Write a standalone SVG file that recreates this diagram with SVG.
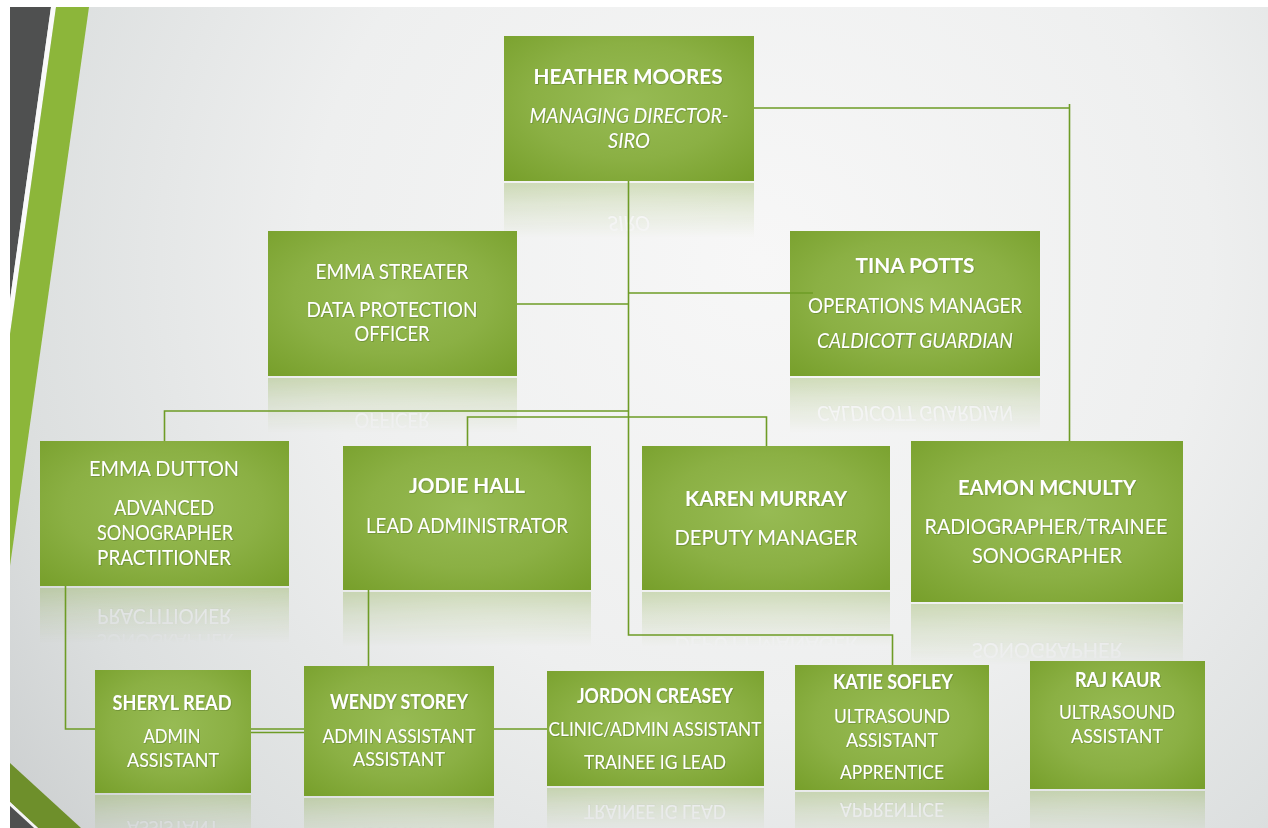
<svg xmlns="http://www.w3.org/2000/svg" xmlns:xlink="http://www.w3.org/1999/xlink" width="1268" height="828" viewBox="0 0 1268 828">
  <style>
    .box { fill: url(#boxFill); }
    .t { font-family: Lato, "Open Sans", "Liberation Sans", sans-serif; font-size: 21px; fill: #ffffff; text-anchor: middle; filter: url(#txtShadow); }
    .s { font-size: 20px; }
    .b { font-weight: 700; }
    .i { font-style: italic; }
    .wire { fill: none; stroke: #6e9c26; stroke-width: 1.6; }
  </style>
  <defs>
    <radialGradient id="bgFill" gradientUnits="userSpaceOnUse" cx="760" cy="260" r="1000">
      <stop offset="0" stop-color="#f7f7f7"/>
      <stop offset="0.45" stop-color="#eeefef"/>
      <stop offset="0.75" stop-color="#dcdfdf"/>
      <stop offset="1" stop-color="#c6c9ca"/>
    </radialGradient>
    <radialGradient id="boxFill" cx="0.5" cy="0.45" r="0.72">
      <stop offset="0" stop-color="#97bb54"/>
      <stop offset="0.55" stop-color="#8bb044"/>
      <stop offset="1" stop-color="#78a02c"/>
    </radialGradient>
    <linearGradient id="fadeGrad" x1="0" y1="0" x2="0" y2="1">
      <stop offset="0" stop-color="#ffffff" stop-opacity="0.3"/>
      <stop offset="0.15" stop-color="#ffffff" stop-opacity="0.16"/>
      <stop offset="0.38" stop-color="#ffffff" stop-opacity="0"/>
    </linearGradient>
    <mask id="fade" maskContentUnits="objectBoundingBox">
      <rect x="0" y="0" width="1" height="1" fill="url(#fadeGrad)"/>
    </mask>
    <filter id="txtShadow" x="-10%" y="-30%" width="120%" height="160%">
      <feDropShadow dx="0.8" dy="0.8" stdDeviation="0.7" flood-color="#3e5a12" flood-opacity="0.4"/>
    </filter>
  </defs>

  <!-- page and backdrop -->
  <rect x="0" y="0" width="1268" height="828" fill="#ffffff"/>
  <rect x="10" y="7" width="1258" height="821" fill="url(#bgFill)"/>

  <!-- left-hand slanted bands -->
  <g id="decor">
    <polygon points="10,7 51,7 10,300" fill="#4f5050"/>
    <polygon points="51,7 56,7 10,334 10,300" fill="#fafafa"/>
    <polygon points="56,7 89,7 10,566 10,334" fill="#8cb63a"/>
    <polygon points="10,763 81,828 38,828 10,802" fill="#6e8f2b"/>
    <polygon points="10,802 38,828 34,828 10,806" fill="#f4f4f4"/>
    <polygon points="10,806 34,828 10,828" fill="#4f5050"/>
  </g>

  <!-- mirrored reflections under each box -->
  <g id="reflections">
    <g mask="url(#fade)"><use xlink:href="#n-heather" transform="matrix(1 0 0 -1 0 364)"/></g>
    <g mask="url(#fade)"><use xlink:href="#n-streater" transform="matrix(1 0 0 -1 0 754)"/></g>
    <g mask="url(#fade)"><use xlink:href="#n-tina" transform="matrix(1 0 0 -1 0 754)"/></g>
    <g mask="url(#fade)"><use xlink:href="#n-dutton" transform="matrix(1 0 0 -1 0 1174)"/></g>
    <g mask="url(#fade)"><use xlink:href="#n-jodie" transform="matrix(1 0 0 -1 0 1182)"/></g>
    <g mask="url(#fade)"><use xlink:href="#n-karen" transform="matrix(1 0 0 -1 0 1182)"/></g>
    <g mask="url(#fade)"><use xlink:href="#n-eamon" transform="matrix(1 0 0 -1 0 1206)"/></g>
    <g mask="url(#fade)"><use xlink:href="#n-sheryl" transform="matrix(1 0 0 -1 0 1588)"/></g>
    <g mask="url(#fade)"><use xlink:href="#n-wendy" transform="matrix(1 0 0 -1 0 1594)"/></g>
    <g mask="url(#fade)"><use xlink:href="#n-jordon" transform="matrix(1 0 0 -1 0 1574)"/></g>
    <g mask="url(#fade)"><use xlink:href="#n-katie" transform="matrix(1 0 0 -1 0 1582)"/></g>
    <g mask="url(#fade)"><use xlink:href="#n-raj" transform="matrix(1 0 0 -1 0 1580)"/></g>
  </g>

  <!-- nodes -->
  <g id="n-heather">
    <rect class="box" x="504" y="36" width="250" height="145"/>
    <text class="t b" x="628" y="84" textLength="189" lengthAdjust="spacingAndGlyphs">HEATHER MOORES</text>
    <text class="t i" x="629" y="123" textLength="199" lengthAdjust="spacingAndGlyphs">MANAGING DIRECTOR-</text>
    <text class="t i" x="629" y="148" textLength="42" lengthAdjust="spacingAndGlyphs">SIRO</text>
  </g>
  <g id="n-streater">
    <rect class="box" x="268" y="231" width="249" height="145"/>
    <text class="t" x="392" y="279" textLength="153" lengthAdjust="spacingAndGlyphs">EMMA STREATER</text>
    <text class="t" x="392" y="317" textLength="171" lengthAdjust="spacingAndGlyphs">DATA PROTECTION</text>
    <text class="t" x="392" y="341" textLength="75" lengthAdjust="spacingAndGlyphs">OFFICER</text>
  </g>
  <g id="n-tina">
    <rect class="box" x="790" y="231" width="250" height="145"/>
    <text class="t b" x="915" y="273" textLength="119" lengthAdjust="spacingAndGlyphs">TINA POTTS</text>
    <text class="t" x="915" y="313" textLength="214" lengthAdjust="spacingAndGlyphs">OPERATIONS MANAGER</text>
    <text class="t i" x="915" y="348" textLength="196" lengthAdjust="spacingAndGlyphs">CALDICOTT GUARDIAN</text>
  </g>
  <g id="n-dutton">
    <rect class="box" x="40" y="441" width="249" height="145"/>
    <text class="t" x="164" y="476" textLength="150" lengthAdjust="spacingAndGlyphs">EMMA DUTTON</text>
    <text class="t" x="164" y="515" textLength="100" lengthAdjust="spacingAndGlyphs">ADVANCED</text>
    <text class="t" x="165" y="540" textLength="136" lengthAdjust="spacingAndGlyphs">SONOGRAPHER</text>
    <text class="t" x="164" y="565" textLength="134" lengthAdjust="spacingAndGlyphs">PRACTITIONER</text>
  </g>
  <g id="n-jodie">
    <rect class="box" x="343" y="446" width="248" height="144"/>
    <text class="t b" x="467" y="493" textLength="116" lengthAdjust="spacingAndGlyphs">JODIE HALL</text>
    <text class="t" x="467" y="533" textLength="202" lengthAdjust="spacingAndGlyphs">LEAD ADMINISTRATOR</text>
  </g>
  <g id="n-karen">
    <rect class="box" x="642" y="446" width="248" height="144"/>
    <text class="t b" x="766" y="506" textLength="162" lengthAdjust="spacingAndGlyphs">KAREN MURRAY</text>
    <text class="t" x="766" y="545" textLength="183" lengthAdjust="spacingAndGlyphs">DEPUTY MANAGER</text>
  </g>
  <g id="n-eamon">
    <rect class="box" x="911" y="441" width="272" height="161"/>
    <text class="t b" x="1047" y="495" textLength="178" lengthAdjust="spacingAndGlyphs">EAMON MCNULTY</text>
    <text class="t" x="1046" y="534" textLength="243" lengthAdjust="spacingAndGlyphs">RADIOGRAPHER/TRAINEE</text>
    <text class="t" x="1047" y="563" textLength="150" lengthAdjust="spacingAndGlyphs">SONOGRAPHER</text>
  </g>
  <g id="n-sheryl">
    <rect class="box" x="95" y="670" width="156" height="123"/>
    <text class="t s b" x="172" y="710" textLength="119" lengthAdjust="spacingAndGlyphs">SHERYL READ</text>
    <text class="t s" x="172" y="743" textLength="57" lengthAdjust="spacingAndGlyphs">ADMIN</text>
    <text class="t s" x="173" y="767" textLength="92" lengthAdjust="spacingAndGlyphs">ASSISTANT</text>
  </g>
  <g id="n-wendy">
    <rect class="box" x="304" y="666" width="190" height="130"/>
    <text class="t s b" x="399" y="709" textLength="138" lengthAdjust="spacingAndGlyphs">WENDY STOREY</text>
    <text class="t s" x="399" y="743" textLength="153" lengthAdjust="spacingAndGlyphs">ADMIN ASSISTANT</text>
    <text class="t s" x="399" y="766" textLength="92" lengthAdjust="spacingAndGlyphs">ASSISTANT</text>
  </g>
  <g id="n-jordon">
    <rect class="box" x="547" y="671" width="217" height="115"/>
    <text class="t s b" x="655" y="703" textLength="156" lengthAdjust="spacingAndGlyphs">JORDON CREASEY</text>
    <text class="t s" x="655" y="736" textLength="213" lengthAdjust="spacingAndGlyphs">CLINIC/ADMIN ASSISTANT</text>
    <text class="t s" x="655" y="769" textLength="142" lengthAdjust="spacingAndGlyphs">TRAINEE IG LEAD</text>
  </g>
  <g id="n-katie">
    <rect class="box" x="795" y="665" width="194" height="125"/>
    <text class="t s b" x="893" y="689" textLength="120" lengthAdjust="spacingAndGlyphs">KATIE SOFLEY</text>
    <text class="t s" x="892" y="723" textLength="116" lengthAdjust="spacingAndGlyphs">ULTRASOUND</text>
    <text class="t s" x="892" y="747" textLength="92" lengthAdjust="spacingAndGlyphs">ASSISTANT</text>
    <text class="t s" x="892" y="779" textLength="104" lengthAdjust="spacingAndGlyphs">APPRENTICE</text>
  </g>
  <g id="n-raj">
    <rect class="box" x="1030" y="661" width="175" height="128"/>
    <text class="t s b" x="1118" y="687" textLength="86" lengthAdjust="spacingAndGlyphs">RAJ KAUR</text>
    <text class="t s" x="1117" y="719" textLength="116" lengthAdjust="spacingAndGlyphs">ULTRASOUND</text>
    <text class="t s" x="1117" y="743" textLength="92" lengthAdjust="spacingAndGlyphs">ASSISTANT</text>
  </g>

  <!-- reporting lines -->
  <g id="connectors" class="wire">
    <path d="M628.5,181 V635 H892.5 V665"/>
    <path d="M754,108 H1069.5 M1069.5,104 V441"/>
    <path d="M517,304 H628.5"/>
    <path d="M628.5,293 H813"/>
    <path d="M628.5,411 H164.5 V441"/>
    <path d="M467.5,446 V417 H766.5 V446"/>
    <path d="M65.5,586 V729 H95"/>
    <path d="M368.5,590 V666"/>
    <path d="M251,729 H304 M251,732.5 H304"/>
    <path d="M494,729 H547"/>
  </g>
</svg>
